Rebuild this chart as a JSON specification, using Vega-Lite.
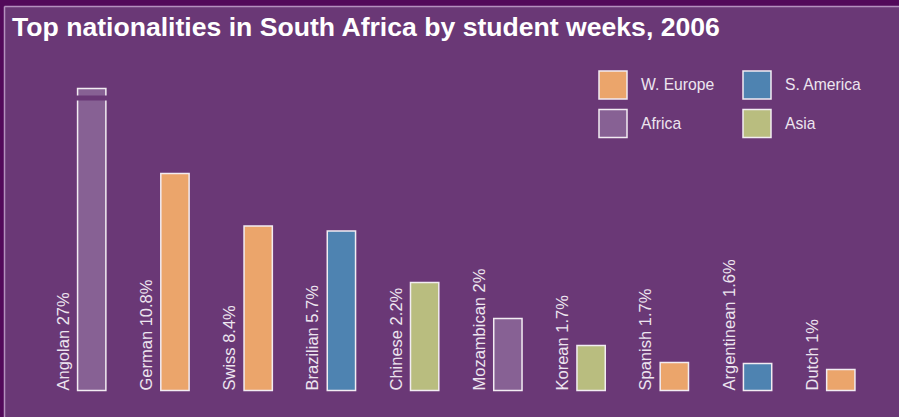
{
  "$schema": "https://vega.github.io/schema/vega-lite/v6.json",
  "width": 895,
  "height": 411,
  "autosize": {"type": "none"},
  "padding": {"top": 6, "left": 4, "right": 0, "bottom": 0},
  "background": "#52095A",
  "config": {
    "view": {"fill": "#6A3876", "stroke": null},
    "font": "Liberation Sans"
  },
  "title": {
    "text": "Top nationalities in South Africa by student weeks, 2006",
    "anchor": "start",
    "frame": "group",
    "orient": "top",
    "offset": -34,
    "dx": 8,
    "dy": 22.5,
    "baseline": "alphabetic",
    "font": "Liberation Sans",
    "fontSize": 26.6,
    "fontWeight": "bold",
    "color": "#FFFFFF"
  },
  "data": {
    "values": [
      {"nation": "Angolan", "label": "Angolan 27%", "region": "Africa", "height": 302},
      {"nation": "German", "label": "German 10.8%", "region": "W. Europe", "height": 217},
      {"nation": "Swiss", "label": "Swiss 8.4%", "region": "W. Europe", "height": 164.5},
      {"nation": "Brazilian", "label": "Brazilian 5.7%", "region": "S. America", "height": 159.5},
      {"nation": "Chinese", "label": "Chinese 2.2%", "region": "Asia", "height": 108},
      {"nation": "Mozambican", "label": "Mozambican 2%", "region": "Africa", "height": 72},
      {"nation": "Korean", "label": "Korean 1.7%", "region": "Asia", "height": 45},
      {"nation": "Spanish", "label": "Spanish 1.7%", "region": "W. Europe", "height": 28},
      {"nation": "Argentinean", "label": "Argentinean 1.6%", "region": "S. America", "height": 27},
      {"nation": "Dutch", "label": "Dutch 1%", "region": "W. Europe", "height": 21}
    ]
  },
  "encoding": {
    "x": {
      "field": "nation",
      "type": "nominal",
      "sort": null,
      "scale": {"paddingInner": 0, "paddingOuter": 0.3766, "align": 0.7355},
      "axis": {
        "orient": "top",
        "domain": true,
        "domainColor": "#B490BE",
        "domainWidth": 1.5,
        "labels": false,
        "ticks": false,
        "grid": false,
        "title": null
      }
    }
  },
  "layer": [
    {
      "mark": {"type": "bar", "width": {"band": 0.34}, "stroke": "#F2ECF2", "strokeWidth": 1.5, "opacity": 1},
      "encoding": {
        "y": {
          "field": "height",
          "type": "quantitative",
          "scale": {"domain": [-26.5, 384.5], "nice": false, "zero": false},
          "axis": {
            "orient": "left",
            "domain": true,
            "domainColor": "#B490BE",
            "domainWidth": 1.5,
            "labels": false,
            "ticks": false,
            "grid": false,
            "title": null
          }
        },
        "y2": {"datum": 0},
        "color": {
          "field": "region",
          "type": "nominal",
          "scale": {
            "domain": ["W. Europe", "Africa", "S. America", "Asia"],
            "range": ["#EBA56B", "#876194", "#4E83B1", "#B9BD7F"]
          },
          "legend": {
            "title": null,
            "orient": "none",
            "legendX": 594,
            "legendY": 64,
            "columns": 2,
            "columnPadding": 25,
            "rowPadding": 4.5,
            "padding": 0,
            "symbolType": "square",
            "symbolSize": 784,
            "symbolStrokeColor": "#F2ECF2",
            "symbolStrokeWidth": 1.5,
            "symbolOpacity": 1,
            "labelOffset": 13,
            "labelFontSize": 15.7,
            "labelFont": "Liberation Sans",
            "labelColor": "#EDE5EF",
            "labelLimit": 300
          }
        }
      }
    },
    {
      "data": {"values": [{"nation": "Angolan", "brk": 292.5}]},
      "mark": {"type": "tick", "thickness": 5, "size": 34, "color": "#6A3876", "opacity": 1},
      "encoding": {
        "y": {"field": "brk", "type": "quantitative"}
      }
    },
    {
      "mark": {
        "type": "text",
        "angle": 270,
        "align": "left",
        "baseline": "alphabetic",
        "xOffset": -23,
        "font": "Liberation Sans",
        "fontSize": 16.5,
        "color": "#EDE5EF"
      },
      "encoding": {
        "y": {"datum": 0},
        "text": {"field": "label"}
      }
    }
  ]
}
